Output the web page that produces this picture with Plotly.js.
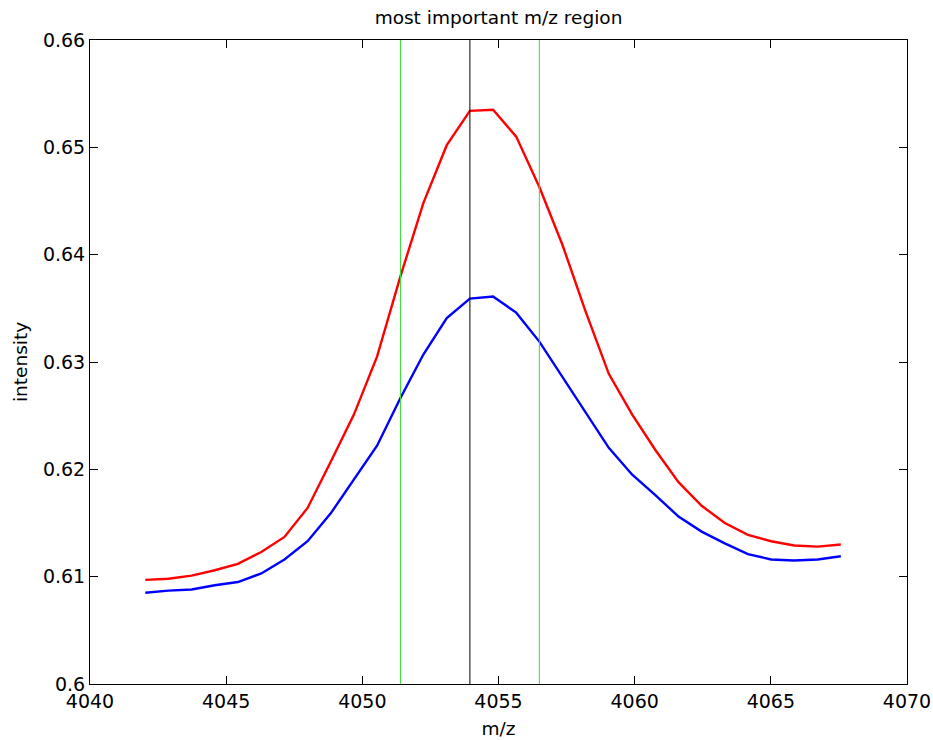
<!DOCTYPE html>
<html>
<head>
<meta charset="utf-8">
<script src="https://cdn.plot.ly/plotly-3.0.1.min.js"></script>
<style>html,body{margin:0;padding:0;background:#fff;}#chart{width:933px;height:740px;}</style>
</head>
<body>
<div id="chart"></div>
<script>
const mz = [4042.03, 4042.88, 4043.73, 4044.58, 4045.43, 4046.29, 4047.14, 4047.99, 4048.84, 4049.69,
            4050.54, 4051.39, 4052.24, 4053.10, 4053.95, 4054.80, 4055.65, 4056.50, 4057.35, 4058.20,
            4059.05, 4059.91, 4060.76, 4061.61, 4062.46, 4063.31, 4064.16, 4065.01, 4065.86, 4066.72, 4067.57];
const redSeries = [0.6097, 0.6098, 0.6101, 0.6106, 0.6112, 0.6123, 0.6137, 0.6164, 0.6207, 0.6251,
                   0.6305, 0.6379, 0.6448, 0.6502, 0.6534, 0.6535, 0.6510, 0.6463, 0.6409, 0.6347,
                   0.6289, 0.6251, 0.6218, 0.6188, 0.6166, 0.6150, 0.6139, 0.6133, 0.6129, 0.6128, 0.6130];
const blueSeries = [0.6085, 0.6087, 0.6088, 0.6092, 0.6095, 0.6103, 0.6116, 0.6133, 0.6159, 0.6190,
                    0.6222, 0.6266, 0.6307, 0.6341, 0.6359, 0.6361, 0.6346, 0.6319, 0.6286, 0.6252,
                    0.6220, 0.6195, 0.6176, 0.6156, 0.6142, 0.6131, 0.6121, 0.6116, 0.6115, 0.6116, 0.6119];
const greenMarkers = [4051.4, 4056.5];
const blackMarkers = [4053.95];
const xTickVals = [4040, 4045, 4050, 4055, 4060, 4065, 4070];
const yTickVals = [0.6, 0.61, 0.62, 0.63, 0.64, 0.65, 0.66];
const yTickText = ['0.6', '0.61', '0.62', '0.63', '0.64', '0.65', '0.66'];

const FONT = 'DejaVu Sans, Liberation Sans, Arial, sans-serif';

const traces = [
  {x: mz, y: blueSeries, type: 'scatter', mode: 'lines', line: {color: '#0000ff', width: 2.4}, hoverinfo: 'skip'},
  {x: mz, y: redSeries, type: 'scatter', mode: 'lines', line: {color: '#ff0000', width: 2.4}, hoverinfo: 'skip'}
];

const shapes = [];
greenMarkers.forEach(v => shapes.push({type: 'line', xref: 'x', yref: 'paper', x0: v, x1: v, y0: 0, y1: 1,
  line: {color: '#33dd33', width: 1}}));
blackMarkers.forEach(v => shapes.push({type: 'line', xref: 'x', yref: 'paper', x0: v, x1: v, y0: 0, y1: 1,
  line: {color: '#000000', width: 1}}));

const axisCommon = {
  showgrid: false, zeroline: false, showline: true, linecolor: '#000', linewidth: 1,
  mirror: 'ticks', ticks: 'inside', ticklen: 8, tickwidth: 1, tickcolor: '#000',
  tickfont: {family: FONT, size: 19, color: '#000'}, automargin: false
};

const layout = {
  width: 933, height: 740,
  margin: {l: 90, r: 26, t: 40, b: 56, pad: 0},
  paper_bgcolor: '#fff', plot_bgcolor: '#fff',
  showlegend: false,
  title: {text: 'most important m/z region', font: {family: FONT, size: 18.5, color: '#000'},
          x: 0.5, xref: 'paper', xanchor: 'center', y: 1 - 18 / 740, yref: 'container', yanchor: 'middle'},
  xaxis: Object.assign({}, axisCommon, {
    range: [4040, 4070], tickvals: xTickVals,
    title: {text: 'm/z', font: {family: FONT, size: 18.5, color: '#000'}, standoff: 11}
  }),
  yaxis: Object.assign({}, axisCommon, {
    range: [0.6, 0.66], tickvals: yTickVals, ticktext: yTickText,
    title: {text: 'intensity', font: {family: FONT, size: 18.5, color: '#000'}, standoff: 10}
  }),
  shapes: shapes
};

Plotly.newPlot('chart', traces, layout, {staticPlot: true, displayModeBar: false});
</script>
</body>
</html>
